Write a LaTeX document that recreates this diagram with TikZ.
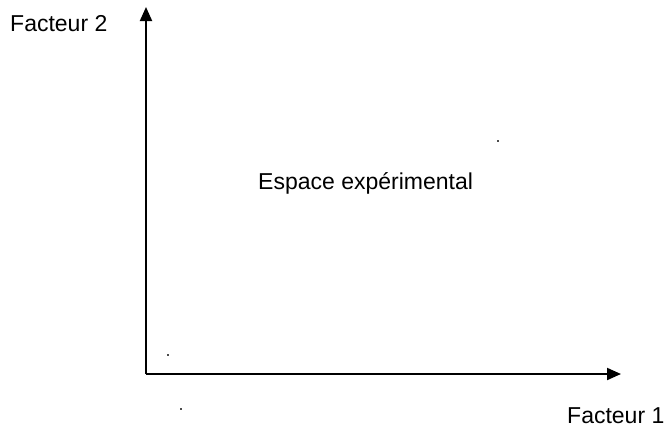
\documentclass[tikz,border=0pt]{standalone}
\usepackage{fontspec}
\setmainfont{Liberation Sans}
\usetikzlibrary{arrows.meta}
\begin{document}
\begin{tikzpicture}[x=1pt,y=-1pt,
  axis/.style={line width=2pt,-{Triangle[length=14pt,width=12pt]}},
  lbl/.style={font=\fontsize{23}{26}\selectfont,inner sep=0pt,anchor=base west},
  speck/.style={fill=black!70}]
\useasboundingbox (0,0) rectangle (666,432);
\coordinate (o) at (146,374);
\coordinate (ytip) at (146,7);
\coordinate (xtip) at (621,374);
\draw[axis] (o) -- (ytip);
\draw[axis] (o) -- (xtip);
\node[lbl] (f2) at (10,31) {Facteur 2};
\node[lbl] (f1) at (567,423) {Facteur 1};
\node[lbl] (esp) at (258,189) {Espace expérimental};
\fill[speck] (167,354) rectangle (168.5,355.5);
\fill[speck] (497,140) rectangle (498.5,141.5);
\fill[speck] (180,408) rectangle (181.5,409.5);
\end{tikzpicture}
\end{document}
